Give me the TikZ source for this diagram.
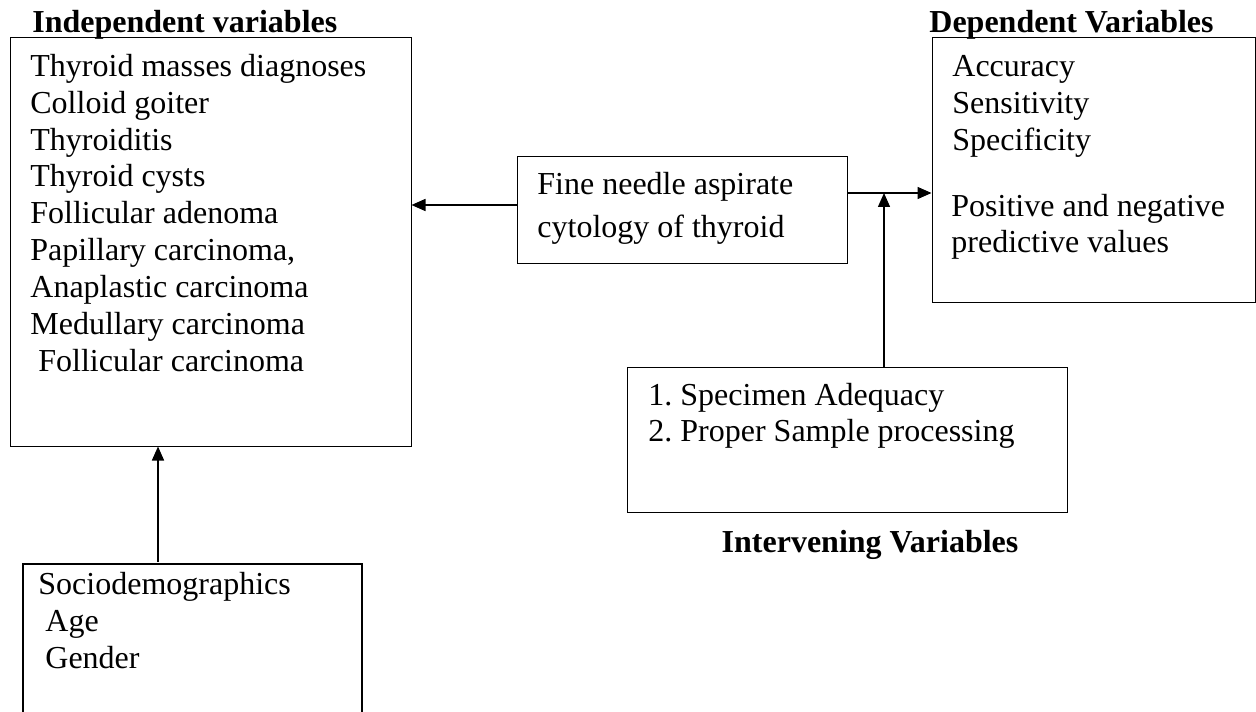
\documentclass[tikz,border=0pt]{standalone}
\usepackage{fontspec}
\setmainfont{Liberation Serif}
\usetikzlibrary{fit,arrows.meta}
\frenchspacing

\begin{document}
\begin{tikzpicture}[x=0.5pt, y=-0.5pt, >={Triangle[length=7pt,width=6pt]},
    box/.style={draw, line width=0.5pt, inner sep=0pt},
    entry/.style={anchor=base west, inner sep=0pt, font=\fontsize{16}{18}\selectfont},
    heading/.style={anchor=base west, inner sep=0pt, font=\fontsize{16}{18}\selectfont\bfseries},
    arr/.style={->, line width=0.75pt}]
    % Canvas (pixel units, y downwards)
    \useasboundingbox (0,0) rectangle (1256,711);
    \clip (0,0) rectangle (1256,711);

    % Boxes
    \node[box, fit={(10,38) (411,446)}] (indep) {};
    \node[box, fit={(932,38) (1255,302)}] (dep) {};
    \node[box, fit={(517,157) (847,263)}] (fna) {};
    \node[box, fit={(627,367) (1067,512)}] (interv) {};
    \node[box, line width=1pt, fit={(23,564) (362,740)}] (socio) {};

    % Headings
    \node[heading] (indep-title) at (32,33) {Independent variables};
    \node[heading] (dep-title) at (929,33) {Dependent Variables};
    \node[heading, anchor=base] (interv-title) at (870,552) {Intervening Variables};

    % Independent variables
    \foreach \txt [count=\i from 0] in {Thyroid masses diagnoses, Colloid goiter,
        Thyroiditis, Thyroid cysts, Follicular adenoma, {Papillary carcinoma,},
        Anaplastic carcinoma, Medullary carcinoma}
        \node[entry] (ind-\i) at (30,76.5+36.8*\i) {\txt};
    \node[entry] (ind-8) at (38,371) {Follicular carcinoma};

    % Dependent variables
    \foreach \txt [count=\i from 0] in {Accuracy, Sensitivity, Specificity}
        \node[entry] (dv-\i) at (952,76.5+36.8*\i) {\txt};
    \node[entry] (dv-3) at (951,216) {Positive and negative};
    \node[entry] (dv-4) at (951,252.5) {predictive values};

    % FNAC
    \node[entry] (fna-1) at (537,195) {Fine needle aspirate};
    \node[entry] (fna-2) at (537,237) {cytology of thyroid};

    % Intervening variables
    \node[entry] (iv-1) at (648,405) {1. Specimen Adequacy};
    \node[entry] (iv-2) at (648,441) {2. Proper Sample processing};

    % Sociodemographics
    \node[entry] (sd-1) at (38,594) {Sociodemographics};
    \node[entry] (sd-2) at (45,631) {Age};
    \node[entry] (sd-3) at (45,668) {Gender};

    % Arrows
    \coordinate (jn) at (884,193);
    \coordinate (sa) at (158,562);
    \draw[arr] ([yshift=2.5pt]fna.west) -- ([yshift=2.5pt]fna.west -| indep.east);
    \draw[arr] (fna.east |- jn) -- (jn -| dep.west);
    \draw[arr] (interv.north -| jn) -- (jn);
    \draw[arr] (sa) -- (sa |- indep.south);
\end{tikzpicture}
\end{document}
